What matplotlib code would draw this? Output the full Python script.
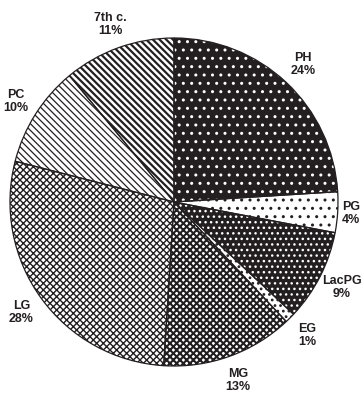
import matplotlib
matplotlib.use("Agg")
import matplotlib.pyplot as plt
import numpy as np

plt.rcParams['font.family'] = ['Liberation Sans', 'DejaVu Sans']

categories = ["PH", "PG", "LacPG", "EG", "MG", "LG", "PC", "7th c."]
values = [24, 4, 9, 1, 13, 28, 10, 11]
pct_labels = ["24%", "4%", "9%", "1%", "13%", "28%", "10%", "11%"]

INK = '#231f20'
# (face colour, hatch colour, hatch pattern, hatch linewidth)
styles = [
    (INK, 'white', '..', 1.0),
    ('white', INK, '..', 1.0),
    (INK, 'white', '...', 1.0),
    ('white', INK, '...', 1.2),
    ('white', INK, 'xxxxx', 1.5),
    ('white', INK, 'xxxxx', 1.0),
    ('white', INK, '\\\\\\\\\\', 0.9),
    ('white', INK, '\\\\\\\\\\', 1.6),
]
label_dist = [1.15, 1.08, 1.15, 1.15, 1.155, 1.15, 1.14, 1.15]

fig = plt.figure(figsize=(3.63, 3.94), dpi=100)
W, H = 363, 394
cx, cy, R = 174, 202, 164
ax = fig.add_axes([(cx - R) / W, (H - cy - R) / H, 2 * R / W, 2 * R / H])

wedges, _ = ax.pie(values, startangle=90, counterclock=False,
                   colors=[s[0] for s in styles],
                   wedgeprops=dict(linewidth=0))
for w, (fc, hc, hatch, hlw) in zip(wedges, styles):
    w.set_edgecolor(hc)
    w.set_linewidth(0)
    w.set_hatch(hatch)
    if hasattr(w, 'set_hatch_linewidth'):
        w.set_hatch_linewidth(hlw)

# outlines
outl, _ = ax.pie(values, startangle=90, counterclock=False,
                 wedgeprops=dict(fill=False, edgecolor=INK, linewidth=0.9))

for w, cat, pct, d in zip(wedges, categories, pct_labels, label_dist):
    ang = np.deg2rad((w.theta1 + w.theta2) / 2)
    ax.text(d * np.cos(ang), d * np.sin(ang), f"{cat}\n{pct}",
            ha='center', va='center', fontsize=9, fontweight='bold',
            color=INK, linespacing=1.1)

ax.set_xlim(-1, 1)
ax.set_ylim(-1, 1)
ax.set_aspect('equal')
ax.axis('off')

fig.savefig('out.png', dpi=100)
